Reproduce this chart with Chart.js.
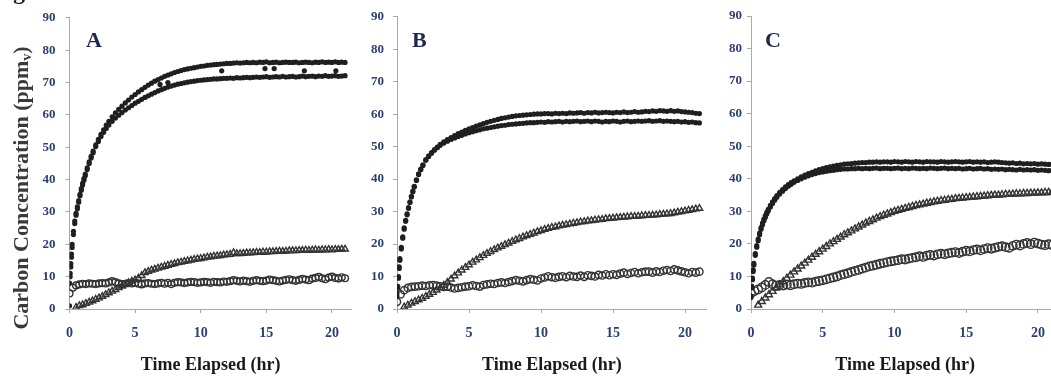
<!DOCTYPE html>
<html>
<head>
<meta charset="utf-8">
<script src="https://cdn.jsdelivr.net/npm/chart.js@4.4.1/dist/chart.umd.min.js"></script>
<style>
  html, body { margin: 0; padding: 0; background: #fff; overflow: hidden; }
  #page { position: relative; width: 1051px; height: 377px; overflow: hidden; }
  .panel { position: absolute; top: 0; height: 377px; }
</style>
</head>
<body>
<div id="page">
  <div class="panel" style="left:0;width:357px"><canvas id="chartA"></canvas></div>
  <div class="panel" style="left:357px;width:355px"><canvas id="chartB"></canvas></div>
  <div class="panel" style="left:712px;width:353px"><canvas id="chartC"></canvas></div>
</div>
<script>
// sampling times (hr)
const darkTime = [
  0, 0.05, 0.1, 0.15, 0.2, 0.3, 0.4, 0.5, 0.6, 0.7,
  0.8, 0.9, 1, 1.1, 1.2, 1.35, 1.5, 1.65, 1.8, 2,
  2.2, 2.4, 2.6, 2.8, 3, 3.25, 3.5, 3.75, 4, 4.25,
  4.5, 4.75, 5, 5.25, 5.5, 5.75, 6, 6.25, 6.5, 6.75,
  7, 7.25, 7.5, 7.75, 8, 8.25, 8.5, 8.75, 9, 9.25,
  9.5, 9.75, 10, 10.25, 10.5, 10.75, 11, 11.25, 11.5, 11.75,
  12, 12.25, 12.5, 12.75, 13, 13.25, 13.5, 13.75, 14, 14.25,
  14.5, 14.75, 15, 15.25, 15.5, 15.75, 16, 16.25, 16.5, 16.75,
  17, 17.25, 17.5, 17.75, 18, 18.25, 18.5, 18.75, 19, 19.25,
  19.5, 19.75, 20, 20.25, 20.5, 20.75, 21
];
const openTime = [
  0, 0.25, 0.5, 0.75, 1, 1.25, 1.5, 1.75, 2, 2.25,
  2.5, 2.75, 3, 3.25, 3.5, 3.75, 4, 4.25, 4.5, 4.75,
  5, 5.25, 5.5, 5.75, 6, 6.25, 6.5, 6.75, 7, 7.25,
  7.5, 7.75, 8, 8.25, 8.5, 8.75, 9, 9.25, 9.5, 9.75,
  10, 10.25, 10.5, 10.75, 11, 11.25, 11.5, 11.75, 12, 12.25,
  12.5, 12.75, 13, 13.25, 13.5, 13.75, 14, 14.25, 14.5, 14.75,
  15, 15.25, 15.5, 15.75, 16, 16.25, 16.5, 16.75, 17, 17.25,
  17.5, 17.75, 18, 18.25, 18.5, 18.75, 19, 19.25, 19.5, 19.75,
  20, 20.25, 20.5, 20.75, 21
];
const yTicks = [0, 10, 20, 30, 40, 50, 60, 70, 80, 90];
const xTicks = [0, 5, 10, 15, 20];

// ---- panel A ----
const aHigh = [
  1, 11, 14, 17, 20, 24, 27.2, 29.6, 31.6, 33.5,
  35.4, 37.2, 38.8, 40.3, 41.7, 43.6, 45.5, 47.2, 48.8, 50.7,
  52.4, 54, 55.4, 56.8, 58, 59.4, 60.6, 61.7, 62.7, 63.7,
  64.6, 65.5, 66.3, 67.1, 67.8, 68.5, 69.2, 69.8, 70.4, 70.9,
  71.4, 71.9, 72.3, 72.7, 73.1, 73.4, 73.7, 74, 74.2, 74.4,
  74.6, 74.8, 75, 75.1, 75.3, 75.4, 75.5, 75.6, 75.7, 75.8,
  75.9, 75.9, 76, 76.1, 76, 76.1, 76.2, 76.1, 76.2, 76.1,
  76.3, 76.2, 76.4, 76.1, 76.2, 76.3, 76.1, 76.2, 76.3, 76.2,
  76.2, 76.3, 76.1, 76.2, 76.3, 76.2, 76.1, 76.3, 76.2, 76.4,
  76.2, 76.3, 76.2, 76.4, 76.2, 76.3, 76.2
];
const aLow = [
  8, 10, 13, 16, 19, 23, 26.4, 29, 31, 33,
  35, 36.7, 38.3, 39.8, 41.2, 43.1, 45, 46.7, 48.3, 50.2,
  51.8, 53.3, 54.6, 55.8, 56.9, 58, 59, 59.9, 60.7, 61.5,
  62.2, 62.9, 63.6, 64.2, 64.8, 65.4, 65.9, 66.4, 66.9, 67.4,
  67.8, 68.2, 68.6, 68.9, 69.2, 69.5, 69.7, 69.9, 70.1, 70.3,
  70.4, 70.6, 70.7, 70.8, 70.9, 71, 71.1, 71.1, 71.2, 71.3,
  71.3, 71.4, 71.3, 71.5, 71.4, 71.5, 71.6, 71.5, 71.6, 71.7,
  71.6, 71.7, 71.8, 71.6, 71.7, 71.8, 71.7, 71.9, 71.7, 71.8,
  71.9, 71.7, 71.8, 72, 71.8, 71.9, 72, 71.8, 72, 71.9,
  72.1, 71.9, 72, 72.1, 71.9, 72, 72.1
];
const aStrayTime = [6.9, 7.5, 11.6, 14.9, 15.6, 17.9, 20.3];
const aStray = [69.4, 70, 73.6, 74.3, 74.3, 73.6, 73.6];
const aTri = [
  null, null, 0.5, 1.0, 1.3, 1.7, 2.1, 2.5, 3.0, 3.4,
  3.9, 4.4, 5.0, 5.5, 6.0, 6.6, 7.1, 7.6, 8.1, 8.6,
  9.0, 9.5, 10.3, 11.2, 11.6, 12.0, 12.3, 12.6, 12.9, 13.2,
  13.5, 13.8, 14.0, 14.3, 14.5, 14.7, 14.9, 15.1, 15.3, 15.5,
  15.6, 15.8, 16.0, 16.1, 16.3, 16.4, 16.5, 16.7, 16.8, 16.9,
  17.4, 17.1, 17.1, 17.2, 17.3, 17.3, 17.4, 17.5, 17.5, 17.6,
  17.6, 17.7, 17.7, 17.8, 17.9, 17.8, 17.9, 18.0, 18.0, 18.0,
  18.1, 18.1, 18.2, 18.1, 18.2, 18.3, 18.2, 18.3, 18.3, 18.4,
  18.3, 18.4, 18.4, 18.5, 18.5
];
const aCirc = [
  4.8, 6.6, 7.3, 7.6, 7.8, 7.7, 7.9, 7.8, 7.7, 7.9,
  8.0, 7.9, 8.2, 8.6, 8.3, 7.9, 7.7, 7.8, 8.0, 7.9,
  8.1, 7.8, 7.6, 7.9, 8.0, 7.8, 7.7, 7.9, 8.1, 7.8,
  8.1, 7.7, 8.1, 8.3, 8.2, 8.0, 8.2, 8.4, 8.3, 8.1,
  8.2, 8.4, 8.3, 8.1, 8.4, 8.3, 8.2, 8.5, 8.4, 8.6,
  8.9, 8.7, 8.5, 8.8, 8.6, 8.4, 8.7, 8.9, 8.7, 8.6,
  8.8, 9.1, 8.9, 8.7, 8.5, 8.8, 9.0, 9.2, 8.9, 8.7,
  9.0, 9.3, 9.1, 8.9, 9.4, 9.6, 9.9, 9.5, 9.2, 9.7,
  10.0, 9.6, 9.4, 9.8, 9.5
];

// ---- panel B ----
const bHigh = [
  5, 7, 10, 13, 15.5, 19, 22.2, 25, 27.3, 29.3,
  31.2, 33, 34.7, 36.3, 37.8, 39.8, 41.6, 43.1, 44.4, 46,
  47.2, 48.2, 49.1, 49.9, 50.7, 51.5, 52.2, 52.8, 53.4, 54,
  54.5, 55, 55.5, 55.9, 56.3, 56.7, 57.1, 57.5, 57.8, 58.1,
  58.4, 58.7, 58.9, 59.1, 59.3, 59.5, 59.6, 59.7, 59.8, 59.9,
  60, 60.1, 60.1, 60.2, 60.2, 60.1, 60.3, 60.2, 60.3, 60.2,
  60.4, 60.3, 60.4, 60.5, 60.3, 60.5, 60.4, 60.6, 60.4, 60.5,
  60.6, 60.5, 60.4, 60.6, 60.5, 60.7, 60.5, 60.6, 60.8, 60.6,
  60.7, 60.9, 60.8, 61, 60.9, 61.1, 61, 60.9, 61.1, 60.9,
  61, 60.8, 60.7, 60.6, 60.5, 60.3, 60.2
];
const bLow = [
  4, 6.5, 9.5, 12.5, 15, 18.5, 21.8, 24.6, 27, 29,
  31, 32.8, 34.5, 36.1, 37.6, 39.6, 41.4, 42.9, 44.2, 45.8,
  47, 48, 48.9, 49.7, 50.4, 51.1, 51.7, 52.2, 52.7, 53.1,
  53.5, 53.9, 54.3, 54.6, 54.9, 55.2, 55.5, 55.7, 55.9, 56.1,
  56.3, 56.5, 56.6, 56.8, 56.9, 57, 57.1, 57.2, 57.3, 57.4,
  57.4, 57.5, 57.6, 57.5, 57.7, 57.6, 57.7, 57.8, 57.6, 57.8,
  57.7, 57.8, 57.9, 57.7, 57.8, 57.9, 57.7, 57.9, 57.8, 57.6,
  57.8, 57.7, 57.9, 57.8, 57.6, 57.8, 57.9, 57.7, 57.8, 57.9,
  57.8, 57.9, 58, 57.8, 57.9, 58, 57.8, 57.9, 57.8, 57.7,
  57.8, 57.6, 57.7, 57.5, 57.6, 57.4, 57.3
];
const bTri = [
  null, null, 0.6, 1.2, 1.8, 2.3, 2.8, 3.3, 3.9, 4.5,
  5.1, 5.8, 6.5, 7.3, 8.2, 9.2, 10.2, 11.1, 12.0, 12.8,
  13.6, 14.4, 15.1, 15.8, 16.5, 17.1, 17.7, 18.3, 18.8, 19.3,
  19.8, 20.3, 20.8, 21.3, 21.7, 22.2, 22.6, 23.0, 23.4, 23.8,
  24.1, 24.5, 24.8, 25.1, 25.3, 25.6, 25.8, 26.0, 26.2, 26.4,
  26.6, 26.8, 26.9, 27.1, 27.2, 27.4, 27.5, 27.6, 27.8, 27.9,
  28.0, 28.1, 28.2, 28.3, 28.4, 28.5, 28.5, 28.6, 28.7, 28.8,
  28.8, 28.9, 29.0, 29.1, 29.2, 29.3, 29.4, 29.6, 29.8, 30.0,
  30.2, 30.4, 30.6, 30.8, 31.0
];
const bCirc = [
  2.2, 4.5, 5.8, 6.5, 6.8, 6.9, 7.0, 7.2, 7.1, 7.3,
  7.4, 7.2, 7.0, 6.8, 6.9, 6.6, 6.3, 6.5, 6.7, 6.9,
  7.0, 7.3, 7.1, 6.9, 7.4, 7.6, 7.8, 7.7, 8.0, 8.2,
  8.0, 8.3, 8.6, 8.9, 8.7, 8.5, 8.9, 9.2, 9.0, 8.8,
  9.4, 9.7, 10.1, 9.8, 9.6, 9.9, 10.1, 9.8, 10.2, 10.0,
  9.9, 10.3, 9.9, 10.4, 10.2, 10.0, 10.5, 10.3, 10.7, 10.4,
  10.7, 10.5, 10.9, 11.2, 10.8, 11.1, 11.4, 11.0, 11.3, 11.5,
  11.5, 11.2, 11.6, 11.4, 11.8, 12.0, 11.7, 12.2, 11.9, 11.6,
  11.3, 11.0, 11.4, 11.2, 11.5
];

// ---- panel C ----
const cHigh = [
  4, 7, 9.5, 12, 14, 17, 19.5, 21.5, 23.3, 25,
  26.4, 27.6, 28.7, 29.7, 30.6, 31.8, 32.9, 33.9, 34.8, 35.8,
  36.7, 37.5, 38.2, 38.8, 39.4, 40, 40.6, 41.1, 41.6, 42,
  42.4, 42.8, 43.1, 43.4, 43.7, 43.9, 44.1, 44.3, 44.5, 44.6,
  44.7, 44.8, 44.9, 45, 45, 45.1, 45.1, 45.2, 45.1, 45.2,
  45.2, 45.1, 45.3, 45.2, 45.1, 45.3, 45.2, 45.1, 45.3, 45.2,
  45.1, 45.3, 45.2, 45.2, 45.1, 45.3, 45.2, 45.1, 45.2, 45.3,
  45.2, 45.1, 45.2, 45.3, 45.1, 45.2, 45.1, 45.2, 45, 45.1,
  45.2, 45.1, 45, 44.9, 44.8, 44.9, 44.7, 44.8, 44.6, 44.7,
  44.6, 44.7, 44.5, 44.6, 44.5, 44.4, 44.5
];
const cLow = [
  3.5, 6.5, 9, 11.5, 13.5, 16.5, 19, 21, 22.8, 24.5,
  25.9, 27.1, 28.2, 29.2, 30.1, 31.3, 32.4, 33.4, 34.3, 35.3,
  36.2, 37, 37.7, 38.3, 38.9, 39.5, 40, 40.5, 40.9, 41.3,
  41.6, 41.9, 42.1, 42.3, 42.5, 42.6, 42.8, 42.9, 43, 43,
  43.1, 43.1, 43.2, 43.1, 43.2, 43.1, 43.2, 43.3, 43.1, 43.2,
  43.2, 43.1, 43.2, 43.3, 43.1, 43.2, 43.1, 43.3, 43.2, 43.1,
  43.2, 43.1, 43.3, 43.2, 43.1, 43.2, 43.3, 43.1, 43.2, 43.1,
  43.2, 43.0, 43.1, 43.2, 43.0, 43.1, 43.2, 43.0, 43.1, 42.9,
  43.0, 42.9, 43.0, 42.8, 42.9, 42.8, 42.7, 42.9, 42.7, 42.8,
  42.7, 42.8, 42.6, 42.7, 42.6, 42.5, 42.6
];
const cTri = [
  null, null, 1.2, 2.3, 3.4, 4.4, 5.4, 6.4, 7.4, 8.4,
  9.4, 10.4, 11.4, 12.3, 13.2, 14.1, 15.0, 15.9, 16.8, 17.6,
  18.4, 19.2, 20.0, 20.7, 21.4, 22.1, 22.8, 23.4, 24.0, 24.6,
  25.2, 25.8, 26.4, 26.9, 27.4, 27.9, 28.4, 28.8, 29.2, 29.6,
  30.0, 30.3, 30.6, 30.9, 31.2, 31.5, 31.8, 32.0, 32.2, 32.5,
  32.7, 32.9, 33.1, 33.3, 33.4, 33.6, 33.7, 33.9, 34.0, 34.1,
  34.2, 34.3, 34.4, 34.5, 34.6, 34.7, 34.8, 34.9, 35.0, 35.0,
  35.1, 35.2, 35.2, 35.3, 35.4, 35.4, 35.5, 35.5, 35.6, 35.6,
  35.7, 35.7, 35.8, 35.8, 35.9
];
const cCirc = [
  4.8, 5.5, 6.0, 6.6, 7.4, 8.3, 7.6, 7.2, 7.4, 7.2,
  7.5, 7.3, 7.6, 7.8, 7.7, 8.0, 8.2, 8.1, 8.4, 8.6,
  8.8, 9.1, 9.4, 9.7, 10.0, 10.4, 10.7, 11.0, 11.4, 11.7,
  12.0, 12.4, 12.7, 13.1, 13.3, 13.6, 13.9, 14.1, 14.4, 14.6,
  14.8, 15.0, 15.3, 15.2, 15.5, 15.7, 15.9, 16.2, 16.0, 16.4,
  16.6, 16.4, 16.8, 17.0, 16.8, 17.1, 17.3, 17.5, 17.2, 17.6,
  17.9, 17.7, 18.1, 18.3, 18.0, 18.4, 18.7, 18.5, 18.8, 19.1,
  19.3, 19.0, 18.8, 19.4, 19.8, 19.5, 20.0, 20.3, 19.9, 20.4,
  20.1, 19.8, 19.6, 19.9, 19.6
];

const SERIF = '"Liberation Serif", "Times New Roman", serif';
const TICK_BLUE = '#2c416e';
const AXIS_GREY = '#a9a9a9';

const toPoints = (ts, vs) =>
  ts.map((t, i) => ({ x: t, y: vs[i] })).filter((p) => p.y !== null);

function darkSet(ts, vs) {
  return {
    data: toPoints(ts, vs),
    pointStyle: 'circle',
    pointRadius: 2.6,
    pointBorderWidth: 0,
    pointBackgroundColor: '#1f1f1f',
    showLine: false,
  };
}

function openSet(vs, style, radius) {
  return {
    data: toPoints(openTime, vs),
    pointStyle: style,
    pointRadius: radius,
    pointBorderWidth: 1.4,
    pointBorderColor: '#333333',
    pointBackgroundColor: 'rgba(255,255,255,0)',
    showLine: false,
  };
}

function decor(letter, letterX, yTitle) {
  return {
    id: 'decor' + letter,
    afterDraw(chart) {
      const ctx = chart.ctx;
      ctx.save();
      ctx.fillStyle = '#1d2947';
      ctx.font = 'bold 22px ' + SERIF;
      ctx.textBaseline = 'alphabetic';
      ctx.textAlign = 'left';
      ctx.fillText(letter, letterX, 47);
      if (yTitle) {
        // caption cut off above the panel: only the tail of the g shows
        ctx.fillStyle = '#222';
        ctx.font = 'bold 24px ' + SERIF;
        const pre = ctx.measureText('Fi').width;
        ctx.fillText('Figure', 13 - pre, -1);
        // rotated y title with subscript
        ctx.translate(22, 188);
        ctx.rotate(-Math.PI / 2);
        ctx.fillStyle = '#3a3a3a';
        ctx.textBaseline = 'middle';
        const main = 'Carbon Concentration (ppm';
        ctx.font = 'bold 22px ' + SERIF;
        const w1 = ctx.measureText(main).width;
        const w3 = ctx.measureText(')').width;
        ctx.font = 'bold 14px ' + SERIF;
        const w2 = ctx.measureText('v').width;
        const x0 = -(w1 + w2 + w3) / 2;
        ctx.font = 'bold 22px ' + SERIF;
        ctx.fillText(main, x0, 0);
        ctx.fillText(')', x0 + w1 + w2, 0);
        ctx.font = 'bold 14px ' + SERIF;
        ctx.fillText('v', x0 + w1, 5);
      }
      ctx.restore();
    },
  };
}

function buildPanel(canvasId, cfg) {
  const datasets = cfg.dark.map(([ts, vs]) => darkSet(ts, vs));
  datasets.push(openSet(cfg.tri, 'triangle', cfg.triRadius));
  datasets.push(openSet(cfg.circ, 'circle', cfg.circRadius));

  new Chart(document.getElementById(canvasId), {
    type: 'scatter',
    data: { datasets },
    options: {
      responsive: true,
      maintainAspectRatio: false,
      animation: false,
      layout: { padding: { top: 16, right: 4, bottom: 0, left: 0 } },
      plugins: { legend: { display: false }, tooltip: { enabled: false } },
      scales: {
        x: {
          type: 'linear',
          min: 0,
          max: 21.5,
          afterBuildTicks: (axis) => {
            axis.ticks = xTicks.map((v) => ({ value: v }));
          },
          afterFit: (axis) => {
            axis.height = 68;
          },
          grid: {
            drawOnChartArea: false,
            drawTicks: true,
            tickLength: 4,
            color: AXIS_GREY,
          },
          border: { color: AXIS_GREY, width: 1 },
          ticks: {
            padding: 12,
            color: TICK_BLUE,
            font: { family: SERIF, size: 14, weight: 'bold' },
          },
          title: {
            display: true,
            text: 'Time Elapsed (hr)',
            color: '#1a1a1a',
            font: { family: SERIF, size: 18, weight: 'bold' },
            padding: { top: 0, bottom: 1 },
          },
        },
        y: {
          type: 'linear',
          min: 0,
          max: 90,
          afterBuildTicks: (axis) => {
            axis.ticks = yTicks.map((v) => ({ value: v }));
          },
          afterFit: (axis) => {
            axis.width = cfg.yWidth;
          },
          grid: {
            drawOnChartArea: false,
            drawTicks: true,
            tickLength: 4,
            color: AXIS_GREY,
          },
          border: { color: AXIS_GREY, width: 1 },
          ticks: {
            padding: cfg.yPad,
            color: TICK_BLUE,
            font: { family: SERIF, size: 13, weight: 'bold' },
          },
        },
      },
    },
    plugins: [decor(cfg.letter, cfg.letterX, cfg.yTitle)],
  });
}

buildPanel('chartA', {
  letter: 'A', letterX: 86, yTitle: true, yWidth: 69.5, yPad: 10,
  dark: [[darkTime, aHigh], [darkTime, aLow], [aStrayTime, aStray]],
  tri: aTri, circ: aCirc, triRadius: 3.8, circRadius: 3.4,
});
buildPanel('chartB', {
  letter: 'B', letterX: 55, yTitle: false, yWidth: 40, yPad: 9,
  dark: [[darkTime, bHigh], [darkTime, bLow]],
  tri: bTri, circ: bCirc, triRadius: 3.8, circRadius: 3.6,
});
buildPanel('chartC', {
  letter: 'C', letterX: 53, yTitle: false, yWidth: 39, yPad: 5,
  dark: [[darkTime, cHigh], [darkTime, cLow]],
  tri: cTri, circ: cCirc, triRadius: 4, circRadius: 4.2,
});
</script>
</body>
</html>
